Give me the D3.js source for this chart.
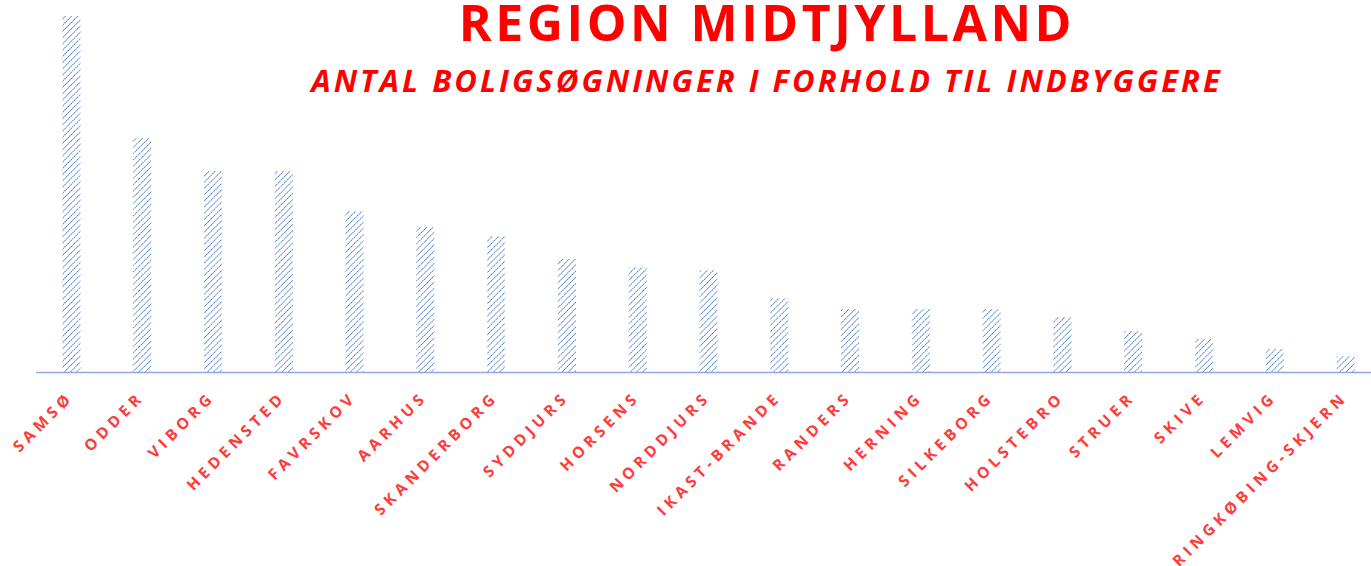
<!DOCTYPE html>
<html>
<head>
<meta charset="utf-8">
<script src="https://d3js.org/d3.v7.min.js"></script>
<style>
  body { margin: 0; background: #fff; }
</style>
</head>
<body>
<div id="chart"></div>
<script>
// kommuner og relative vaerdier (aflaest fra billedet)
var kommuner = ["SAMSØ", "ODDER", "VIBORG", "HEDENSTED", "FAVRSKOV", "AARHUS", "SKANDERBORG",
  "SYDDJURS", "HORSENS", "NORDDJURS", "IKAST-BRANDE", "RANDERS", "HERNING", "SILKEBORG",
  "HOLSTEBRO", "STRUER", "SKIVE", "LEMVIG", "RINGKØBING-SKJERN"];
var vaerdier = [356, 234, 201, 201, 161, 145, 136, 113, 105, 102, 74, 63, 63, 63, 55, 41, 33, 23, 16];

var titel = "REGION MIDTJYLLAND";
var undertitel = "ANTAL BOLIGSØGNINGER I FORHOLD TIL INDBYGGERE";

var width = 1371, height = 566;
var baseY = 372, topY = 16;

var svg = d3.select("#chart").append("svg")
  .attr("width", width)
  .attr("height", height);

// skraveret moenster
var defs = svg.append("defs");
var pat = defs.append("pattern")
  .attr("id", "hatch")
  .attr("patternUnits", "userSpaceOnUse")
  .attr("width", 4.4)
  .attr("height", 4.4)
  .attr("patternTransform", "rotate(45)");
pat.append("line")
  .attr("x1", 0).attr("y1", 0)
  .attr("x2", 0).attr("y2", 4.4)
  .attr("stroke", "#4472c4")
  .attr("stroke-width", 1.8)
  .attr("stroke-dasharray", "1.6,0.6");

var x = d3.scaleBand()
  .domain(kommuner)
  .range([36, 1381])
  .paddingInner(0.745)
  .paddingOuter(0.3725);

var y = d3.scaleLinear()
  .domain([0, d3.max(vaerdier)])
  .range([baseY, topY]);

var data = kommuner.map(function(k, i) { return {navn: k, v: vaerdier[i]}; });

svg.append("g")
  .selectAll("rect")
  .data(data)
  .enter()
  .append("rect")
    .attr("x", function(d) { return x(d.navn); })
    .attr("y", function(d) { return y(d.v); })
    .attr("width", x.bandwidth())
    .attr("height", function(d) { return baseY - y(d.v); })
    .style("fill", "url(#hatch)");

// x-akse linje
svg.append("line")
  .attr("x1", 36).attr("x2", width)
  .attr("y1", baseY + 0.5).attr("y2", baseY + 0.5)
  .attr("stroke", "#8eaadb")
  .attr("stroke-width", 1.5);

// akse-labels
svg.append("g")
  .selectAll("text")
  .data(kommuner)
  .enter()
  .append("text")
    .text(function(d) { return d; })
    .attr("text-anchor", "end")
    .attr("transform", function(d) {
      return "translate(" + (x(d) + x.bandwidth() / 2 + 3) + "," + (baseY + 26) + ") rotate(-45)";
    })
    .style("font-family", "'Open Sans', sans-serif")
    .style("font-size", "15.5px")
    .style("font-weight", "bold")
    .style("letter-spacing", "4.6px")
    .style("fill", "#ff3b3b");

svg.append("text")
  .text(titel)
  .attr("x", 767)
  .attr("y", 41)
  .attr("text-anchor", "middle")
  .style("font-family", "'Open Sans', sans-serif")
  .style("font-size", "50px")
  .style("font-weight", "bold")
  .style("letter-spacing", "3.5px")
  .style("fill", "#ff0000");

svg.append("text")
  .text(undertitel)
  .attr("x", 767)
  .attr("y", 92)
  .attr("text-anchor", "middle")
  .style("font-family", "'Open Sans', sans-serif")
  .style("font-size", "31px")
  .style("font-weight", "bold")
  .style("font-style", "italic")
  .style("letter-spacing", "3px")
  .style("fill", "#ff0000");
</script>
</body>
</html>
